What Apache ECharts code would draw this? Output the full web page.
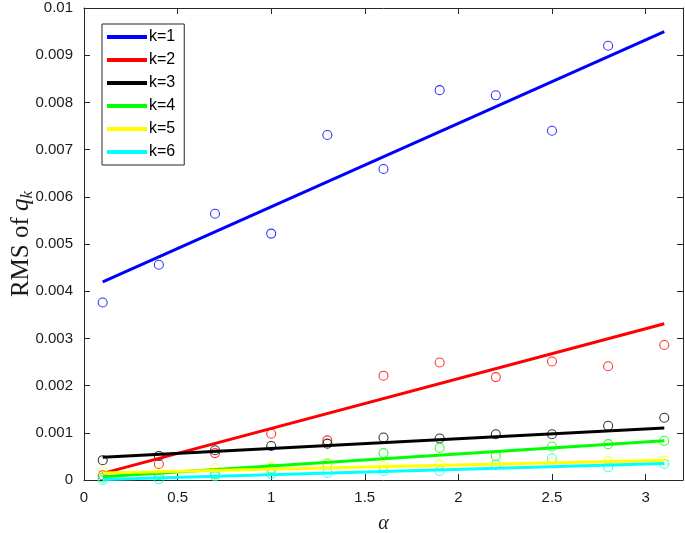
<!DOCTYPE html>
<html>
<head>
<meta charset="utf-8">
<script src="https://cdn.jsdelivr.net/npm/echarts@6/dist/echarts.min.js"></script>
<style>html,body{margin:0;padding:0;background:#fff;}#c{width:685px;height:533px;}</style>
</head>
<body>
<div id="c"></div>
<script>
// alpha values (x)
const alpha = [0.1, 0.4, 0.7, 1.0, 1.3, 1.6, 1.9, 2.2, 2.5, 2.8, 3.1];
// RMS of q_k samples (circles)
const rmsK1 = [0.00376, 0.00456, 0.00564, 0.00522, 0.00731, 0.00659, 0.00826, 0.00815, 0.00740, 0.00920, null];
const rmsK2 = [0.00010, 0.00034, 0.00057, 0.00098, 0.00084, 0.00221, 0.00249, 0.00218, 0.00251, 0.00241, 0.00286];
const rmsK3 = [0.00042, 0.00051, 0.00063, 0.00072, 0.00077, 0.00090, 0.00088, 0.00097, 0.00097, 0.00115, 0.00132];
const rmsK4 = [0.00005, 0.00010, 0.00012, 0.00024, 0.00035, 0.00057, 0.00068, 0.00051, 0.00071, 0.00076, 0.00083];
const rmsK5 = [0.00018, 0.00017, 0.00025, 0.00029, 0.00036, 0.00030, 0.00033, 0.00033, 0.00037, 0.00040, 0.00041];
const rmsK6 = [0.00000, 0.00002, 0.00008, 0.00013, 0.00015, 0.00019, 0.00019, 0.00032, 0.00046, 0.00027, 0.00034];
// fitted lines: values at the ends of fitRange
const fitRange = [0.1, 3.1];
const fitK1 = [0.00420, 0.00950];
const fitK2 = [0.00014, 0.00331];
const fitK3 = [0.00048, 0.00110];
const fitK4 = [0.00007, 0.00083];
const fitK5 = [0.00015, 0.00042];
const fitK6 = [0.00001, 0.00035];
const seriesNames = ['k=1', 'k=2', 'k=3', 'k=4', 'k=5', 'k=6'];
const colors = ['#0000ff', '#ff0000', '#000000', '#00ff00', '#ffff00', '#00ffff'];
const yTicks = [0, 0.001, 0.002, 0.003, 0.004, 0.005, 0.006, 0.007, 0.008, 0.009, 0.01];

const samples = [rmsK1, rmsK2, rmsK3, rmsK4, rmsK5, rmsK6];
const fits = [fitK1, fitK2, fitK3, fitK4, fitK5, fitK6];

const series = [];
samples.forEach((arr, i) => {
  series.push({
    name: seriesNames[i] + ' data',
    type: 'scatter',
    symbol: 'circle',
    symbolSize: 9,
    itemStyle: { color: 'rgba(0,0,0,0)', borderColor: colors[i], borderWidth: 1.1 },
    data: alpha.map((a, j) => [a, arr[j]]).filter(p => p[1] !== null),
    z: 2
  });
});
fits.forEach((f, i) => {
  series.push({
    name: seriesNames[i],
    type: 'line',
    symbol: 'none',
    lineStyle: { color: colors[i], width: 3 },
    itemStyle: { color: colors[i] },
    data: fitRange.map((a, j) => [a, f[j]]),
    z: 3
  });
});

const axisColor = '#262626';
const labelFont = { fontFamily: 'Liberation Sans', fontSize: 15, color: '#1a1a1a' };
const chart = echarts.init(document.getElementById('c'), null, { renderer: 'canvas' });
chart.setOption({
  animation: false,
  backgroundColor: '#fff',
  grid: { left: 84, right: 2, top: 8, bottom: 53, outerBoundsMode: 'none', containLabel: false },
  legend: {
    data: seriesNames,
    orient: 'vertical',
    left: 102,
    top: 24,
    icon: 'rect',
    itemWidth: 40,
    itemHeight: 4,
    itemGap: 7,
    padding: [5, 9, 5, 5],
    borderColor: axisColor,
    borderWidth: 1,
    backgroundColor: '#fff',
    textStyle: { fontFamily: 'Liberation Sans', fontSize: 16, color: '#000', padding: [0, 0, 0, -3] }
  },
  xAxis: [{
    type: 'value', min: 0, max: 3.2, interval: 0.5,
    name: 'α', nameLocation: 'middle', nameGap: 34,
    nameTextStyle: { fontFamily: 'Liberation Serif', fontStyle: 'italic', fontSize: 20, color: '#1a1a1a' },
    axisLine: { show: true, lineStyle: { color: axisColor, width: 1 } },
    axisTick: { show: true, inside: true, length: 6, lineStyle: { color: axisColor } },
    axisLabel: Object.assign({ margin: 10, formatter: v => (Math.abs(v * 2 - Math.round(v * 2)) < 1e-9 ? String(v) : '') }, labelFont),
    splitLine: { show: false }
  }, {
    type: 'value', min: 0, max: 3.2, interval: 0.5, position: 'top',
    axisLine: { show: true, onZero: false, lineStyle: { color: axisColor, width: 1 } },
    axisTick: { show: true, inside: true, length: 6, lineStyle: { color: axisColor } },
    axisLabel: { show: false },
    splitLine: { show: false }
  }],
  yAxis: [{
    type: 'value', min: 0, max: 0.01, interval: 0.001,
    name: '{a|RMS of }{b|q}{c|k}', nameLocation: 'middle', nameGap: 48, nameRotate: 90,
    nameMoveOverlap: false,
    nameTextStyle: {
      rich: {
        a: { fontFamily: 'Liberation Serif', fontSize: 25, color: '#1a1a1a' },
        b: { fontFamily: 'Liberation Serif', fontStyle: 'italic', fontSize: 25, color: '#1a1a1a' },
        c: { fontFamily: 'Liberation Serif', fontStyle: 'italic', fontSize: 17, color: '#1a1a1a', padding: [12, 0, 0, 0] }
      }
    },
    axisLine: { show: true, lineStyle: { color: axisColor, width: 1 } },
    axisTick: { show: true, inside: true, length: 6, lineStyle: { color: axisColor } },
    axisLabel: Object.assign({ margin: 11, customValues: yTicks, formatter: v => String(+v.toFixed(3)) }, labelFont),
    splitLine: { show: false }
  }, {
    type: 'value', min: 0, max: 0.01, interval: 0.001, position: 'right',
    axisLine: { show: true, onZero: false, lineStyle: { color: axisColor, width: 1 } },
    axisTick: { show: true, inside: true, length: 6, lineStyle: { color: axisColor } },
    axisLabel: { show: false },
    splitLine: { show: false }
  }],
  series: series
});
</script>
</body>
</html>
